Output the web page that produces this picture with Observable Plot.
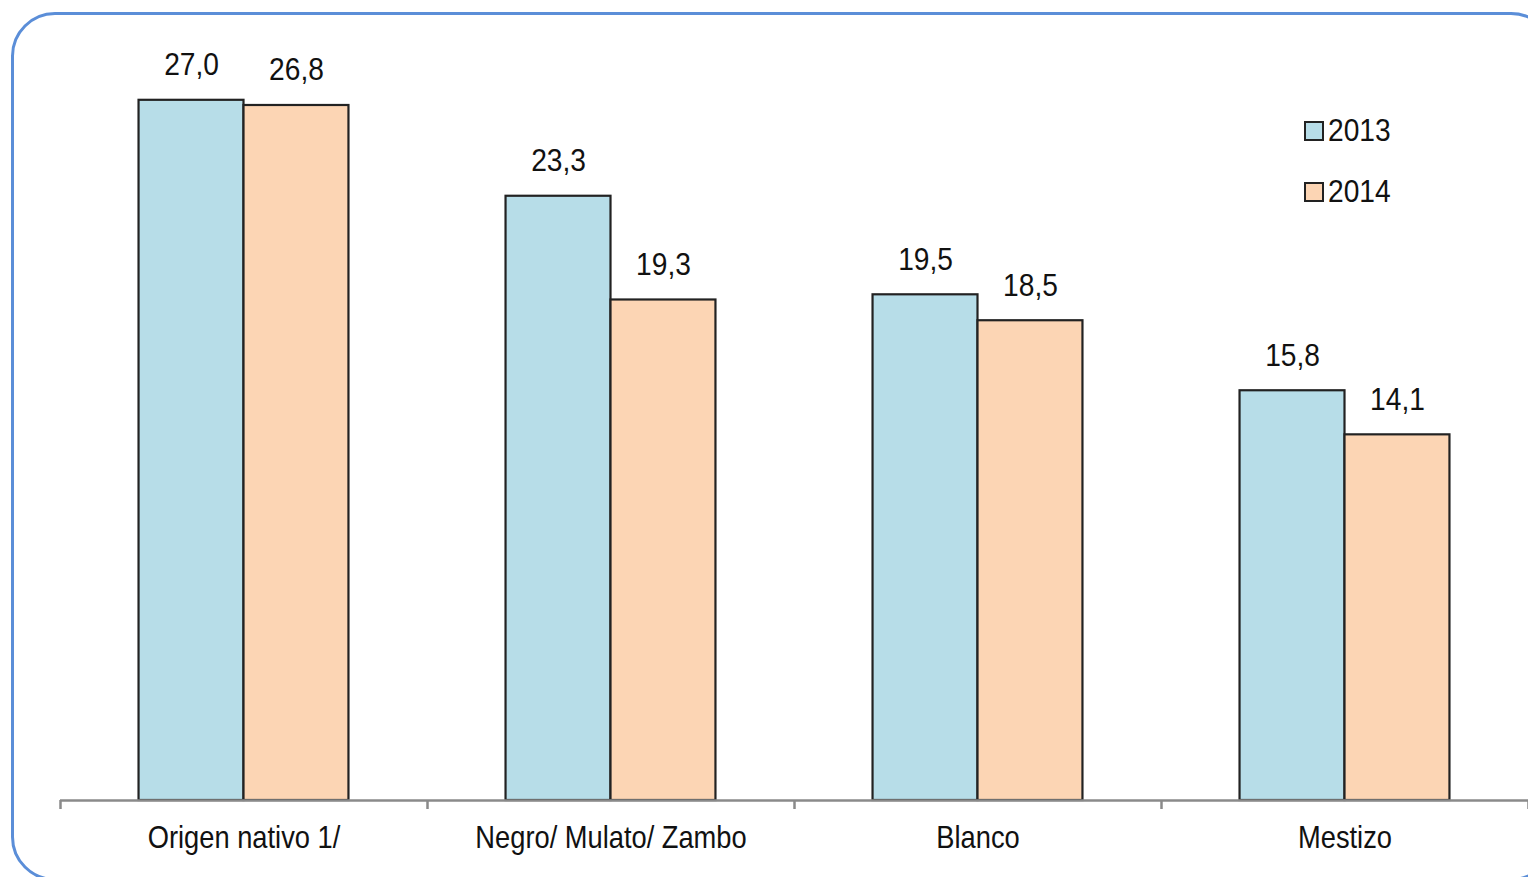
<!DOCTYPE html>
<html>
<head>
<meta charset="utf-8">
<script src="https://cdn.jsdelivr.net/npm/d3@7"></script>
<script src="https://cdn.jsdelivr.net/npm/@observablehq/plot@0.6"></script>
<style>
  html, body { margin: 0; padding: 0; background: #fff; overflow: hidden; }
  body { width: 1528px; height: 877px; position: relative; font-family: "Liberation Sans", Arial, sans-serif; }
  #frame { position: absolute; left: 11px; top: 12px; width: 1544px; height: 869px; border: 3px solid #5b8ed8; border-radius: 44px; box-sizing: border-box; }
  #chart { position: absolute; left: 0; top: 0; }
  #legend { position: absolute; left: 1304px; top: 100px; font-size: 32px; color: #111; line-height: 61px; }
  .item { display: flex; align-items: center; }
  .sw { width: 16px; height: 16px; border: 2px solid #222; margin-right: 4px; }
  .lbl { display: inline-block; transform: scaleX(0.88); transform-origin: left center; }
</style>
</head>
<body>
<div id="frame"></div>
<div id="chart"></div>
<div id="legend"></div>
<script>
const categories = ["Origen nativo 1/", "Negro/ Mulato/ Zambo", "Blanco", "Mestizo"];
const years = ["2013", "2014"];
const values2013 = [27.0, 23.3, 19.5, 15.8];
const values2014 = [26.8, 19.3, 18.5, 14.1];
const colors = ["#b7dde8", "#fcd5b4"];

const barW = 0.286; // bar width in category units
const rows = [];
categories.forEach((c, i) => {
  [values2013, values2014].forEach((vals, j) => {
    const x1 = i + 0.5 - barW + j * barW;
    rows.push({category: c, year: years[j], value: vals[i], x1, x2: x1 + barW, xc: x1 + barW / 2});
  });
});
const fmt = v => d3.format(".1f")(v).replace(".", ",");
const font = '"Liberation Sans", Arial, sans-serif';

const chart = Plot.plot({
  width: 1528,
  height: 877,
  marginTop: 22,
  marginBottom: 77,
  marginLeft: 60,
  marginRight: 0,
  style: {fontFamily: font, background: "transparent", overflow: "visible"},
  x: {type: "linear", domain: [0, categories.length], axis: null},
  y: {domain: [0, 30], axis: null},
  color: {domain: years, range: colors},
  marks: [
    Plot.rectY(rows, {x1: "x1", x2: "x2", y: "value", fill: "year", stroke: "#222", strokeWidth: 2.2}),
    Plot.ruleY([0], {stroke: "#8a8a8a", strokeWidth: 2.5}),
    Plot.axisX({ticks: d3.range(categories.length + 1), tickFormat: () => "", tickSize: 9, stroke: "#8a8a8a", strokeWidth: 2.5, anchor: "bottom"}),
    Plot.text(rows, {x: "xc", y: "value", text: d => fmt(d.value), dy: -25, lineAnchor: "bottom", fontSize: 32, fill: "#111"}),
    Plot.text(categories, {x: (d, i) => i + 0.5, y: () => 0, text: d => d, dy: 38, fontSize: 31, fill: "#111"})
  ]
});
document.getElementById("chart").append(chart);

// condense text horizontally (no narrow font installed)
chart.querySelectorAll("text").forEach(el => {
  const b = el.getBBox();
  const cx = b.x + b.width / 2;
  const prev = el.getAttribute("transform") || "";
  el.setAttribute("transform", `${prev} translate(${cx},0) scale(0.88,1) translate(${-cx},0)`);
});

const legend = document.getElementById("legend");
years.forEach((y, i) => {
  const it = document.createElement("div");
  it.className = "item";
  const sw = document.createElement("span");
  sw.className = "sw";
  sw.style.background = colors[i];
  const t = document.createElement("span");
  t.className = "lbl";
  t.textContent = y;
  it.append(sw, t);
  legend.append(it);
});
</script>
</body>
</html>
